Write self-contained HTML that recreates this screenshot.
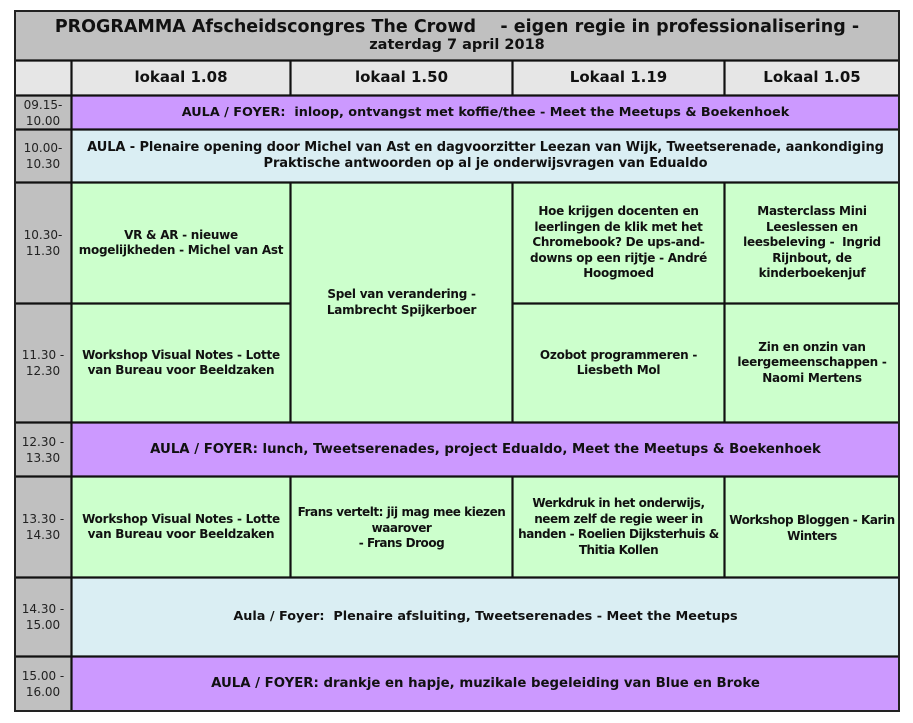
<!DOCTYPE html>
<html><head><meta charset="utf-8"><style>
body{margin:0;width:913px;height:723px;background:#fff;position:relative;font-family:"DejaVu Sans","Liberation Sans",sans-serif;overflow:hidden}
.c{position:absolute;box-sizing:border-box;border:1px solid #111;box-shadow:inset 0 0 0 0.6px #111;display:flex;flex-direction:column;align-items:center;justify-content:center;text-align:center;font-weight:bold;font-size:12.8px;line-height:15.5px;color:#111;padding:0;white-space:nowrap;overflow:hidden}
.g{font-size:12px;letter-spacing:-0.25px}
.t{background:#c0c0c0;font-weight:normal;font-size:12px;line-height:16px;color:#222}
.h{background:#e6e6e6;font-size:15px}
.p{background:#cc99ff}
.b{background:#daeef3}
.g{background:#ccffcc}
#frame{position:absolute;left:14px;top:10px;width:886px;height:702px;border:2px solid #222;box-sizing:border-box;pointer-events:none}
</style></head><body>
<div class="c" style="left:14px;top:10px;width:886px;height:51px;background:#c0c0c0;font-size:17.5px;line-height:20px">
<div>PROGRAMMA Afscheidscongres The Crowd &nbsp;&nbsp;&nbsp;- eigen regie in professionalisering -</div>
<div style="font-size:14.5px;line-height:17px">zaterdag 7 april 2018</div></div>
<div class="c h" style="left:14px;top:60px;width:58px;height:36px"></div>
<div class="c h" style="left:71px;top:60px;width:220px;height:36px">lokaal 1.08</div>
<div class="c h" style="left:290px;top:60px;width:223px;height:36px">lokaal 1.50</div>
<div class="c h" style="left:512px;top:60px;width:213px;height:36px">Lokaal 1.19</div>
<div class="c h" style="left:724px;top:60px;width:176px;height:36px">Lokaal 1.05</div>

<div class="c t" style="left:14px;top:95px;width:58px;height:35px">09.15-<br>10.00</div>
<div class="c p" style="left:71px;top:95px;width:829px;height:35px">AULA / FOYER:&nbsp; inloop, ontvangst met koffie/thee - Meet the Meetups &amp; Boekenhoek</div>

<div class="c t" style="left:14px;top:129px;width:58px;height:54px">10.00-<br>10.30</div>
<div class="c b" style="left:71px;top:129px;width:829px;height:54px;font-size:13px;letter-spacing:-0.1px;line-height:16px">AULA - Plenaire opening door Michel van Ast en dagvoorzitter Leezan van Wijk, Tweetserenade, aankondiging<br>Praktische antwoorden op al je onderwijsvragen van Edualdo</div>

<div class="c t" style="left:14px;top:182px;width:58px;height:122px">10.30-<br>11.30</div>
<div class="c g" style="left:71px;top:182px;width:220px;height:122px">VR &amp; AR - nieuwe<br>mogelijkheden - Michel van Ast</div>
<div class="c g" style="left:290px;top:182px;width:223px;height:241px">Spel van verandering -<br>Lambrecht Spijkerboer</div>
<div class="c g" style="left:512px;top:182px;width:213px;height:122px">Hoe krijgen docenten en<br>leerlingen de klik met het<br>Chromebook? De ups-and-<br>downs op een rijtje - André<br>Hoogmoed</div>
<div class="c g" style="left:724px;top:182px;width:176px;height:122px">Masterclass Mini<br>Leeslessen en<br>leesbeleving -&nbsp; Ingrid<br>Rijnbout, de<br>kinderboekenjuf</div>

<div class="c t" style="left:14px;top:303px;width:58px;height:120px">11.30 -<br>12.30</div>
<div class="c g" style="left:71px;top:303px;width:220px;height:120px">Workshop Visual Notes - Lotte<br>van Bureau voor Beeldzaken</div>
<div class="c g" style="left:512px;top:303px;width:213px;height:120px">Ozobot programmeren -<br>Liesbeth Mol</div>
<div class="c g" style="left:724px;top:303px;width:176px;height:120px">Zin en onzin van<br>leergemeenschappen -<br>Naomi Mertens</div>

<div class="c t" style="left:14px;top:422px;width:58px;height:55px">12.30 -<br>13.30</div>
<div class="c p" style="left:71px;top:422px;width:829px;height:55px;font-size:13.3px">AULA / FOYER: lunch, Tweetserenades, project Edualdo, Meet the Meetups &amp; Boekenhoek</div>

<div class="c t" style="left:14px;top:476px;width:58px;height:102px">13.30 -<br>14.30</div>
<div class="c g" style="left:71px;top:476px;width:220px;height:102px">Workshop Visual Notes - Lotte<br>van Bureau voor Beeldzaken</div>
<div class="c g" style="left:290px;top:476px;width:223px;height:102px;justify-content:flex-start;padding-top:28px;letter-spacing:-0.45px">Frans vertelt: jij mag mee kiezen<br>waarover<br>- Frans Droog</div>
<div class="c g" style="left:512px;top:476px;width:213px;height:102px;letter-spacing:-0.45px">Werkdruk in het onderwijs,<br>neem zelf de regie weer in<br>handen - Roelien Dijksterhuis &amp;<br>Thitia Kollen</div>
<div class="c g" style="left:724px;top:476px;width:176px;height:102px;justify-content:flex-start;padding-top:36px;letter-spacing:-0.45px">Workshop Bloggen - Karin<br>Winters</div>

<div class="c t" style="left:14px;top:577px;width:58px;height:80px">14.30 -<br>15.00</div>
<div class="c b" style="left:71px;top:577px;width:829px;height:80px">Aula / Foyer:&nbsp; Plenaire afsluiting, Tweetserenades - Meet the Meetups</div>

<div class="c t" style="left:14px;top:656px;width:58px;height:56px">15.00 -<br>16.00</div>
<div class="c p" style="left:71px;top:656px;width:829px;height:56px;font-size:13.3px">AULA / FOYER: drankje en hapje, muzikale begeleiding van Blue en Broke</div>
<div id="frame"></div>
</body></html>
